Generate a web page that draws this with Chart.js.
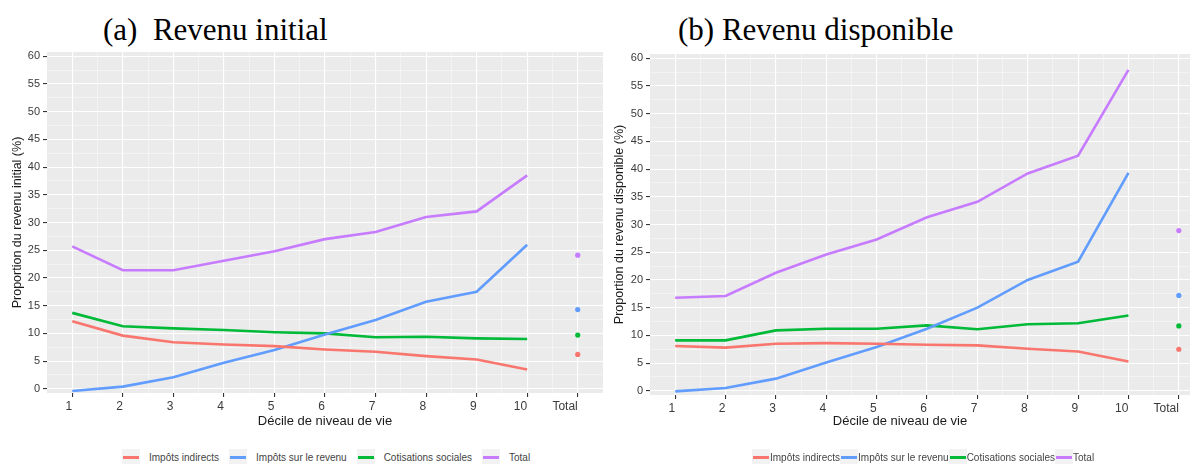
<!DOCTYPE html>
<html lang="fr">
<head>
<meta charset="utf-8">
<title>Proportion du revenu par décile</title>
<script src="https://cdn.jsdelivr.net/npm/chart.js@4.4.1/dist/chart.umd.min.js"></script>
<style>
  html, body { margin: 0; padding: 0; background: #fff; }
  body { width: 1190px; height: 464px; overflow: hidden; position: relative; font-family: 'Liberation Sans', Arial, sans-serif; }
  canvas { position: absolute; top: 0; }
  #chartA { left: 0; }
  #chartB { left: 600px; }
  .heading { position: absolute; top: 14px; line-height: 1; font-family: 'Liberation Serif', 'Times New Roman', serif; font-size: 31px; color: #000; white-space: pre; }
  .xtitle { position: absolute; top: 413px; font-size: 13px; color: #1a1a1a; white-space: nowrap; transform: translateX(-50%); }
  .legend { position: absolute; top: 449px; display: flex; align-items: center; font-size: 10px; color: #444; white-space: nowrap; }
  .legend .item { display: flex; align-items: center; }
  .legend .key { width: 18px; height: 17px; background: #f2f2f2; position: relative; }
  .legend .key::after { content: ''; position: absolute; left: 1px; right: 1px; top: 7px; height: 2.5px; background: var(--c); }
  #legendA { left: 122px; }
  #legendA .item { margin-right: 10px; }
  #legendA .key { margin-right: 9px; }
  #legendB { left: 752px; }
</style>
</head>
<body>
<div class="heading" style="left:103px">(a)  Revenu initial</div>
<div class="heading" style="left:678px">(b) Revenu disponible</div>
<canvas id="chartA" width="610" height="440"></canvas>
<canvas id="chartB" width="610" height="440"></canvas>
<div class="xtitle" style="left:325px">Décile de niveau de vie</div>
<div class="xtitle" style="left:900px">Décile de niveau de vie</div>
<div class="legend" id="legendA"></div>
<div class="legend" id="legendB"></div>
<script>
// Categories along the x axis: the ten deciles followed by the overall total
const xLabels = ['1', '2', '3', '4', '5', '6', '7', '8', '9', '10', 'Total'];
const yTickValues = [0, 5, 10, 15, 20, 25, 30, 35, 40, 45, 50, 55, 60];

const seriesNames = ['Impôts indirects', 'Impôts sur le revenu', 'Cotisations sociales', 'Total'];
const seriesColors = ['#F8766D', '#619CFF', '#00BA38', '#C77CFF'];

// (a) share of initial income, by decile (%)
const initIndirects   = [12.2, 9.6, 8.4, 8.0, 7.7, 7.1, 6.7, 5.9, 5.3, 3.5];
const initRevenu      = [-0.4, 0.4, 2.1, 4.7, 7.0, 9.8, 12.4, 15.7, 17.5, 26.0];
const initCotisations = [13.7, 11.3, 10.9, 10.6, 10.2, 10.0, 9.3, 9.4, 9.1, 9.0];
const initTotal       = [25.7, 21.4, 21.4, 23.1, 24.8, 27.0, 28.3, 31.0, 32.0, 38.5];
// whole population, same series order
const initOverall     = [6.2, 14.3, 9.7, 24.1];

// (b) share of disposable income, by decile (%)
const dispIndirects   = [8.1, 7.8, 8.5, 8.6, 8.5, 8.3, 8.2, 7.6, 7.1, 5.3];
const dispRevenu      = [-0.1, 0.5, 2.2, 5.1, 7.9, 11.2, 15.0, 20.0, 23.3, 39.3];
const dispCotisations = [9.1, 9.1, 10.9, 11.2, 11.2, 11.8, 11.1, 12.0, 12.2, 13.6];
const dispTotal       = [16.8, 17.1, 21.3, 24.6, 27.3, 31.3, 34.1, 39.2, 42.4, 57.9];
const dispOverall     = [7.5, 17.2, 11.7, 28.9];

const FONT = "'Liberation Sans', Arial, sans-serif";
const isMajor = v => Math.abs(v - Math.round(v)) < 1e-9;

// grey panel behind the plot, ggplot style
const panelBackground = {
  id: 'panelBackground',
  beforeDraw(chart) {
    const { ctx, chartArea: a } = chart;
    ctx.save();
    ctx.fillStyle = '#EBEBEB';
    ctx.fillRect(a.left, a.top, a.right - a.left, a.bottom - a.top);
    ctx.restore();
  }
};

function buildChart(canvasId, series, overall, yTitle, opts) {
  const datasets = series.map((values, i) => ({
    type: 'line',
    label: seriesNames[i],
    data: values.map((v, k) => ({ x: k + 1, y: v })),
    borderColor: seriesColors[i],
    backgroundColor: seriesColors[i],
    borderWidth: 2.6,
    pointRadius: 0,
    tension: 0,
    fill: false
  }));
  datasets.push({
    type: 'scatter',
    label: 'Ensemble',
    data: overall.map(v => ({ x: xLabels.length, y: v })),
    pointBackgroundColor: seriesColors,
    pointBorderWidth: 0,
    pointRadius: 2.6,
    showLine: false
  });

  const major = ctx => ctx.tick && isMajor(ctx.tick.value / (ctx.scale.axis === 'y' ? 5 : 1));
  const gridColor = ctx => major(ctx) ? '#FFFFFF' : 'rgba(255,255,255,0.65)';
  const gridWidth = ctx => major(ctx) ? 1.1 : 0.6;
  const tickColor = ctx => major(ctx) ? '#333333' : 'rgba(0,0,0,0)';

  return new Chart(document.getElementById(canvasId), {
    data: { datasets },
    plugins: [panelBackground],
    options: {
      responsive: false,
      animation: false,
      events: [],
      layout: { padding: { top: opts.top, right: opts.right, left: 0, bottom: 0 } },
      plugins: { legend: { display: false }, tooltip: { enabled: false } },
      scales: {
        x: {
          type: 'linear',
          min: 0.5,
          max: xLabels.length + 0.5,
          afterBuildTicks(scale) {
            const t = [];
            for (let i = 1; i <= xLabels.length; i++) {
              t.push({ value: i });
              if (i < xLabels.length) t.push({ value: i + 0.5 });
            }
            scale.ticks = t;
          },
          afterFit(scale) { scale.height = 440 - opts.bottom; },
          ticks: {
            autoSkip: false,
            maxRotation: 0,
            align: 'end',
            padding: 2,
            color: '#3a3a3a',
            font: { family: FONT, size: 12 },
            callback: v => isMajor(v) ? xLabels[Math.round(v) - 1] : ''
          },
          grid: { color: gridColor, lineWidth: gridWidth, tickColor, tickLength: 4, drawTicks: true },
          border: { display: false }
        },
        y: {
          type: 'linear',
          min: -0.75,
          max: 60.75,
          afterBuildTicks(scale) {
            const t = [];
            yTickValues.forEach((v, i) => {
              t.push({ value: v });
              if (i < yTickValues.length - 1) t.push({ value: v + 2.5 });
            });
            scale.ticks = t;
          },
          afterFit(scale) { scale.width = opts.yWidth; },
          ticks: {
            autoSkip: false,
            padding: 3,
            color: '#3a3a3a',
            font: { family: FONT, size: 11 },
            callback: v => isMajor(v / 5) ? String(v) : ''
          },
          title: {
            display: true,
            text: yTitle,
            color: '#1a1a1a',
            font: { family: FONT, size: 12.5 },
            padding: { top: opts.yTitlePad, bottom: 0 }
          },
          grid: { color: gridColor, lineWidth: gridWidth, tickColor, tickLength: 4, drawTicks: true },
          border: { display: false }
        }
      }
    }
  });
}

buildChart('chartA', [initIndirects, initRevenu, initCotisations, initTotal], initOverall,
  'Proportion du revenu initial (%)', { top: 52, bottom: 393, right: 7, yWidth: 47, yTitlePad: 10 });
buildChart('chartB', [dispIndirects, dispRevenu, dispCotisations, dispTotal], dispOverall,
  'Proportion du revenu disponible (%)', { top: 54, bottom: 395, right: 6, yWidth: 50, yTitlePad: 12.5 });

// legends built from the same series names and colours
['legendA', 'legendB'].forEach(id => {
  const box = document.getElementById(id);
  seriesNames.forEach((name, i) => {
    const item = document.createElement('span');
    item.className = 'item';
    const key = document.createElement('span');
    key.className = 'key';
    key.style.setProperty('--c', seriesColors[i]);
    const label = document.createElement('span');
    label.textContent = name;
    item.appendChild(key);
    item.appendChild(label);
    box.appendChild(item);
  });
});
</script>
</body>
</html>
